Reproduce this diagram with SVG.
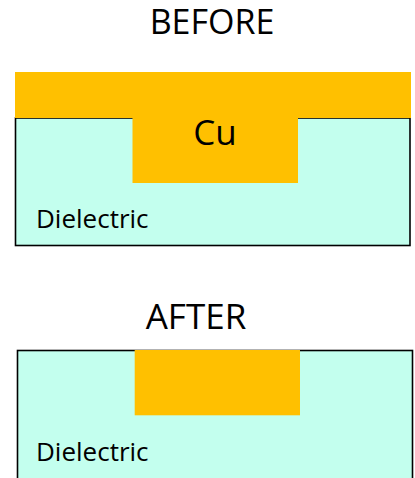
<svg xmlns="http://www.w3.org/2000/svg" width="415" height="478" viewBox="0 0 415 478">
<style>
.diel{fill:#C3FFEE;stroke:#000;stroke-width:1.6}
.cu{fill:#FFC000}
.t{font-family:"Open Sans","Liberation Sans",sans-serif;fill:#000}
.lbl{font-size:26px}
</style>
<rect width="415" height="478" fill="#fff"/>
<g id="before">
<text class="t" x="212" y="34" font-size="34" text-anchor="middle">BEFORE</text>
<rect class="diel" x="15.5" y="118" width="394.5" height="127.5"/>
<path class="cu" d="M15 72H411V118H298V183H132.5V118H15Z"/>
<text class="t" x="215" y="145" font-size="35" text-anchor="middle">Cu</text>
<text class="t lbl" x="36" y="228">Dielectric</text>
</g>
<g id="after">
<text class="t" x="196" y="329" font-size="35" text-anchor="middle">AFTER</text>
<rect class="diel" x="17.5" y="350.5" width="395" height="140"/>
<rect class="cu" x="134.7" y="350" width="165.3" height="65.3"/>
<text class="t lbl" x="36" y="461">Dielectric</text>
</g>
</svg>
